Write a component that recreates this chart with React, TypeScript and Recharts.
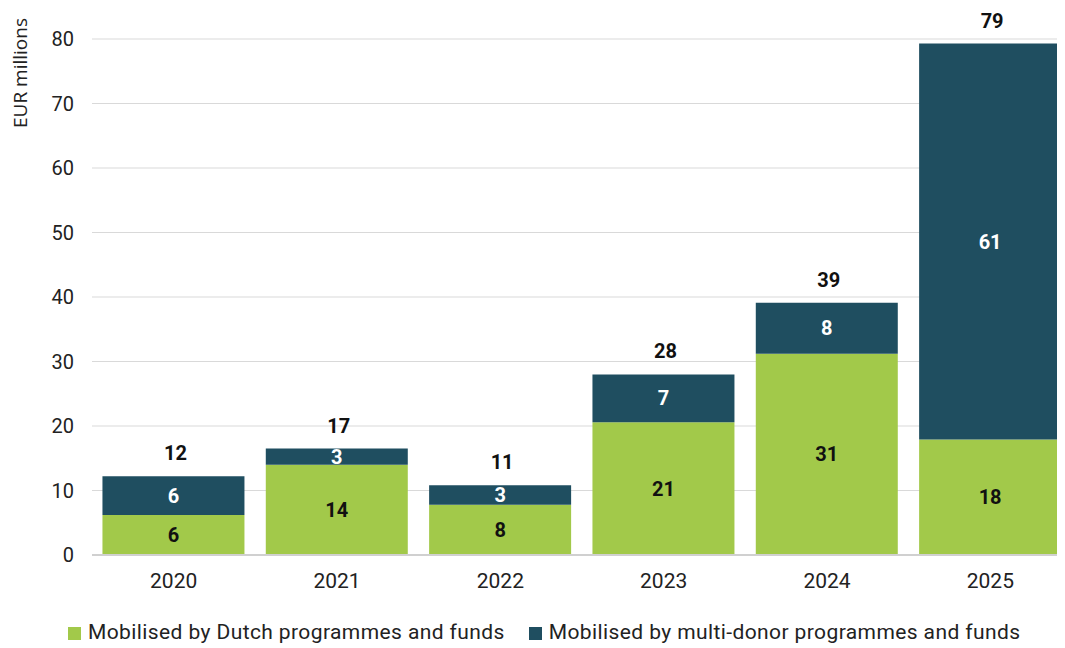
import { BarChart, Bar, XAxis, YAxis, CartesianGrid, Legend, LabelList } from "recharts";

const years = ["2020", "2021", "2022", "2023", "2024", "2025"];
const dutch = [6.2, 14.0, 7.8, 20.6, 31.2, 17.9];
const multiDonor = [6.0, 2.5, 3.0, 7.4, 7.9, 61.4];
const dutchLabels = ["6", "14", "8", "21", "31", "18"];
const multiLabels = ["6", "3", "3", "7", "8", "61"];
const totalLabels = ["12", "17", "11", "28", "39", "79"];
const yTicks = [0, 10, 20, 30, 40, 50, 60, 70, 80];

const GREEN = "#a2c94a";
const DARK = "#1f4e60";

const data = years.map((year, i) => ({
    year,
    dutch: dutch[i],
    multi: multiDonor[i],
    dutchLabel: dutchLabels[i],
    multiLabel: multiLabels[i],
    totalLabel: totalLabels[i],
}));

const font = "Roboto, 'Noto Sans', sans-serif";

// total above each stack
const TotalLabel = (props: any) => {
    const { x, y, width, value } = props;
    return (
        <text x={x + width / 2 + 2} y={y - 16} textAnchor="middle" fontFamily={font} fontSize={20} fontWeight={700} fill="#111">
            {value}
        </text>
    );
};

const YTitle = (props: any) => {
    const { viewBox } = props;
    const cx = 12;
    const cy = viewBox.y + 34;
    return (
        <text x={cx} y={cy} transform={`rotate(-90 ${cx} ${cy})`} textAnchor="middle" dominantBaseline="central"
            fontFamily="'Open Sans', sans-serif" fontSize={19} fill="#222">
            EUR millions
        </text>
    );
};

export default function App() {
    return (
        <div style={{ width: 1057, overflow: "hidden" }}>
            <BarChart width={1057} height={640} data={data} barCategoryGap="6.4%"
                margin={{ top: 31, right: -7, left: 0, bottom: 4 }}>
                <CartesianGrid vertical={false} stroke="#d9d9d9" />
                <XAxis dataKey="year" tickLine={false} axisLine={{ stroke: "#d0d0d0", strokeWidth: 2 }} height={65}
                    tickMargin={12} tick={{ fontFamily: font, fontSize: 21, fill: "#222" }} />
                <YAxis domain={[0, 80]} ticks={yTicks} width={84} axisLine={false} tickLine={false} tickMargin={12}
                    tick={{ fontFamily: font, fontSize: 20, fill: "#222" }} label={<YTitle />} />
                <Legend verticalAlign="bottom" align="left" iconType="square" iconSize={13}
                    wrapperStyle={{ left: 60, fontFamily: font, fontSize: 21, letterSpacing: 0.4, color: "#222" }}
                    formatter={(v: string) => <span style={{ color: "#222", marginLeft: 3, marginRight: 14 }}>{v}</span>} />
                <Bar dataKey="dutch" stackId="a" fill={GREEN} name="Mobilised by Dutch programmes and funds" isAnimationActive={false}>
                    <LabelList dataKey="dutchLabel" position="center" fill="#111" fontFamily={font} fontSize={20} fontWeight={700} />
                </Bar>
                <Bar dataKey="multi" stackId="a" fill={DARK} name="Mobilised by multi-donor programmes and funds" isAnimationActive={false}>
                    <LabelList dataKey="multiLabel" position="center" fill="#fff" fontFamily={font} fontSize={20} fontWeight={700} />
                    <LabelList dataKey="totalLabel" content={<TotalLabel />} />
                </Bar>
            </BarChart>
        </div>
    );
}
